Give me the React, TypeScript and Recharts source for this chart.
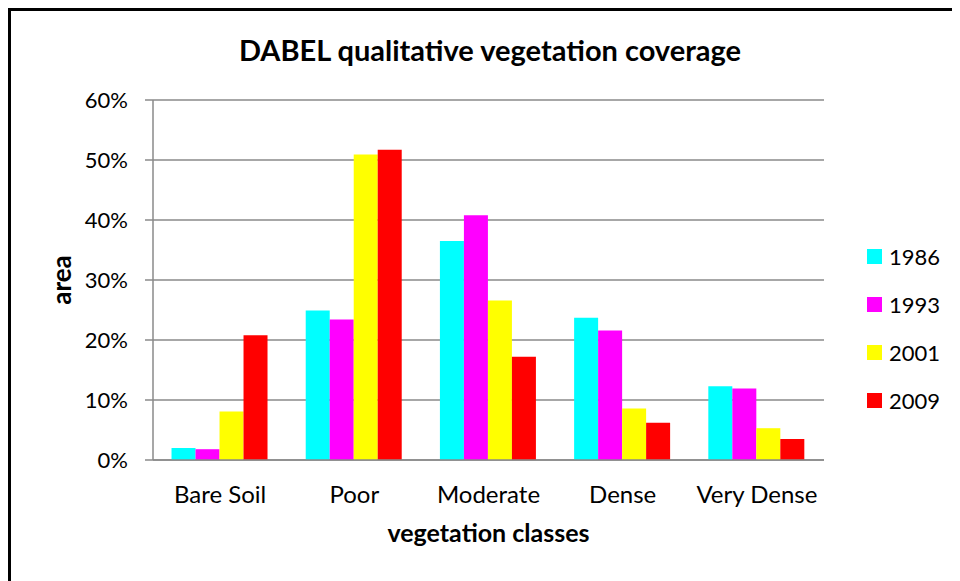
import { BarChart, Bar, XAxis, YAxis, CartesianGrid } from 'recharts';

const categories = ['Bare Soil', 'Poor', 'Moderate', 'Dense', 'Very Dense'];
const years = ['1986', '1993', '2001', '2009'];
const v1986 = [2.0, 24.9, 36.5, 23.7, 12.3];
const v1993 = [1.8, 23.4, 40.8, 21.6, 11.9];
const v2001 = [8.1, 50.9, 26.6, 8.6, 5.3];
const v2009 = [20.8, 51.7, 17.2, 6.2, 3.5];
const colors = ['#00FFFF', '#FF00FF', '#FFFF00', '#FF0000'];
const yTicks = [0, 10, 20, 30, 40, 50, 60];

const series = [v1986, v1993, v2001, v2009];
const data = categories.map((name, i) => {
  const row: Record<string, string | number> = { name };
  years.forEach((y, k) => { row[y] = series[k][i]; });
  return row;
});

const FONT = 'Lato, "Open Sans", sans-serif';
const GRID = '#8a8a8a';

export default function App() {
  return (
    <div style={{ position: 'relative', width: 952, height: 573, overflow: 'hidden', fontFamily: FONT, background: '#fff' }}>
      <div style={{ position: 'absolute', left: 0, top: 0, width: 960, height: 600, borderTop: '3px solid #000', borderLeft: '3px solid #000', boxSizing: 'border-box' }} />
      <div style={{ position: 'absolute', left: 482, top: 24, transform: 'translateX(-50%)', whiteSpace: 'nowrap', fontSize: 29, fontWeight: 700, lineHeight: '36px', color: '#000' }}>
        DABEL qualitative vegetation coverage
      </div>
      <div style={{ position: 'absolute', left: 859, top: 224 }}>
        {years.map((y, k) => (
          <div key={y} style={{ height: 48, display: 'flex', alignItems: 'center' }}>
            <span style={{ width: 15, height: 15, background: colors[k], display: 'inline-block', marginRight: 7 }} />
            <span style={{ fontSize: 22, color: '#000' }}>{y}</span>
          </div>
        ))}
      </div>
      <div style={{ position: 'absolute', left: 0, top: 0 }}>
        <BarChart width={952} height={573} data={data} margin={{ top: 92, right: 136, bottom: 0, left: 0 }}
          barCategoryGap="13.8%" barGap={0}>
          <CartesianGrid vertical={false} stroke={GRID} strokeWidth={1.5} />
          <XAxis dataKey="name" height={121} tickSize={0} tickMargin={26} stroke={GRID} strokeWidth={1.5}
            tick={{ fontSize: 24, fill: '#000', fontFamily: FONT }}
            label={{ value: 'vegetation classes', position: 'insideTop', offset: 64, fill: '#000', fontSize: 25, fontWeight: 700, fontFamily: FONT }} />
          <YAxis width={145} domain={[0, 60]} ticks={yTicks} interval={0} tickSize={8} tickMargin={17}
            stroke={GRID} strokeWidth={1.5} tickFormatter={(v) => `${v}%`}
            tick={{ fontSize: 22, fill: '#000', fontFamily: FONT }}
            label={{ value: 'area', angle: -90, position: 'insideLeft', offset: 54, fill: '#000', fontSize: 26, fontWeight: 700, fontFamily: FONT, style: { textAnchor: 'middle' } }} />
          {years.map((y, k) => (
            <Bar key={y} dataKey={y} fill={colors[k]} isAnimationActive={false} />
          ))}
        </BarChart>
      </div>
    </div>
  );
}
